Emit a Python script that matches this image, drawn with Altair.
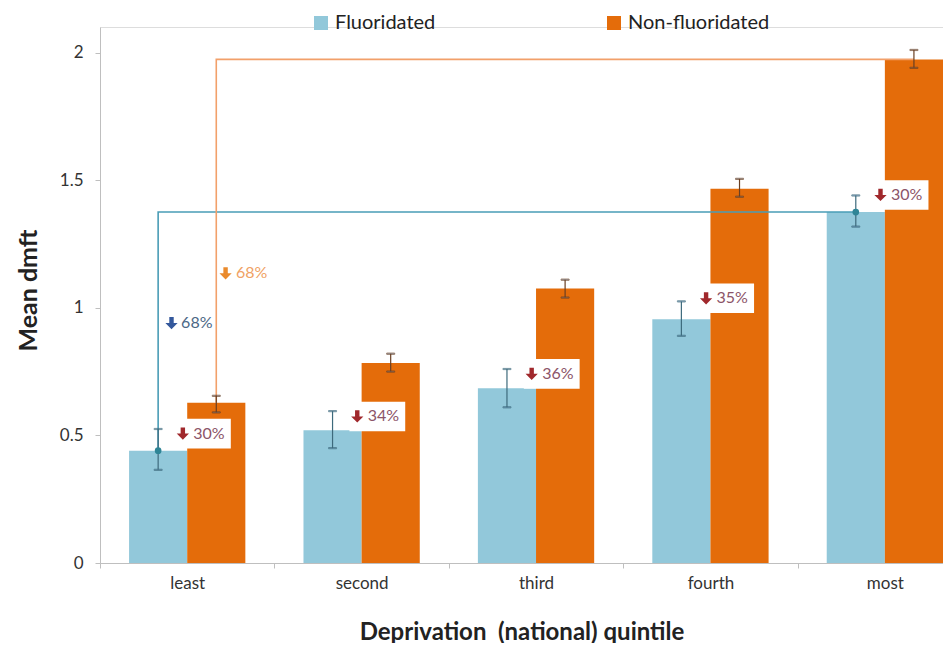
import json
import altair as alt
import pandas as pd

# ---------------- data ----------------
categories = ["least", "second", "third", "fourth", "most"]
series = ["Fluoridated", "Non-fluoridated"]

fluor = [0.44, 0.52, 0.685, 0.955, 1.375]
fluor_lo = [0.365, 0.45, 0.61, 0.89, 1.318]
fluor_hi = [0.525, 0.595, 0.76, 1.025, 1.44]

nonfl = [0.628, 0.784, 1.075, 1.466, 1.973]
nonfl_lo = [0.59, 0.75, 1.04, 1.435, 1.94]
nonfl_hi = [0.655, 0.82, 1.11, 1.505, 2.01]

pct_labels = ["30%", "34%", "36%", "35%", "30%"]
pct_label_y = [0.507, 0.574, 0.741, 1.037, 1.442]

overall_labels = ["68%", "68%"]          # fluoridated, non-fluoridated
overall_label_y = [0.94, 1.135]

y_ticks = [0, 0.5, 1, 1.5, 2]

# ---------------- table building ----------------
BW = 1 / 3.0
rows = []
for i, c in enumerate(categories):
    for s, v, lo, hi in ((series[0], fluor[i], fluor_lo[i], fluor_hi[i]),
                         (series[1], nonfl[i], nonfl_lo[i], nonfl_hi[i])):
        xl = i - BW if s == series[0] else i
        rows.append(dict(cat=c, series=s, value=v, lo=lo, hi=hi,
                         xl=xl, xr=xl + BW, xc=xl + BW / 2))
bars = pd.DataFrame(rows)

# connector paths: from the "least" bar up to the "most" level, across to the "most" bar
paths = []
for s, vals in ((series[0], fluor), (series[1], nonfl)):
    b0 = bars[(bars.series == s) & (bars.cat == categories[0])].iloc[0]
    b4 = bars[(bars.series == s) & (bars.cat == categories[-1])].iloc[0]
    paths += [dict(series=s, o=0, x=b0.xc, y=vals[0]),
              dict(series=s, o=1, x=b0.xc, y=vals[-1]),
              dict(series=s, o=2, x=b4.xc, y=vals[-1])]
paths = pd.DataFrame(paths)
dots = pd.DataFrame([paths.iloc[0].to_dict(), paths.iloc[2].to_dict()])

labels = pd.DataFrame(dict(i=list(range(len(categories))), pct=pct_labels, y=pct_label_y))
labels["bx"] = labels.i - 0.07
labels["bx2"] = labels.i + 0.25
labels["by"] = labels.y - 0.058
labels["by2"] = labels.y + 0.058
labels["ax"] = labels.i - 0.025
labels["tx"] = labels.i + 0.035

overall = pd.DataFrame(dict(series=series, t=overall_labels, y=overall_label_y))
overall["ax"] = [-0.09, 0.22]
overall["tx"] = [-0.035, 0.28]

# ---------------- scales / axes ----------------
XD = [-0.5, len(categories) - 1 + BW]
YD = [0, 2.1]
xs = alt.Scale(domain=XD, nice=False, zero=False)
ys = alt.Scale(domain=YD, nice=False, zero=True)

x_vals = []
for i in range(len(categories)):
    x_vals += [i - 0.5, i]
label_expr = ("datum.value % 1 === 0 ? " + json.dumps(categories) +
              "[datum.value] : ''")

x_axis = alt.Axis(values=x_vals, labelExpr=label_expr,
                  title="Deprivation\u00a0 (national) quintile",
                  grid=False, domainColor="#bfbfbf", tickColor="#bfbfbf", tickSize=5,
                  tickOpacity={"condition": {"test": "datum.value % 1 !== 0", "value": 1}, "value": 0},
                  labelFontSize=17, labelColor="#333333", labelPadding=7, labelFlush=False,
                  titleFontSize=24, titleFontWeight="bold", titleColor="#222222",
                  titleY=69, titleBaseline="middle")
y_axis = alt.Axis(values=y_ticks, format="~g", title="Mean dmft", grid=False,
                  domainColor="#bfbfbf", tickColor="#bfbfbf", tickSize=5,
                  labelFontSize=17, labelColor="#333333", labelPadding=12,
                  titleFontSize=25, titleFontWeight="bold", titleColor="#222222",
                  titleX=-72, titleY=263, titleBaseline="middle", titleAlign="center")

COL_F, COL_N = "#92c8da", "#e46c0a"
ARROW = "M-0.36,-1 L0.36,-1 L0.36,0 L1,0 L0,1 L-1,0 L-0.36,0 Z"

bar_layer = alt.Chart(bars).mark_bar().encode(
    x=alt.X("xl:Q", scale=xs, axis=x_axis),
    x2="xr:Q",
    y=alt.Y("value:Q", scale=ys, axis=y_axis),
    y2=alt.Y2(datum=0),
    color=alt.Color("series:N", scale=alt.Scale(domain=series, range=[COL_F, COL_N]),
                    legend=alt.Legend(title=None, orient="none", direction="horizontal",
                                      legendX=211, legendY=-14, symbolType="square",
                                      symbolSize=196, symbolStrokeWidth=0,
                                      labelFontSize=20, labelColor="#222222",
                                      labelOffset=4, columnPadding=168)),
)

err_scale = alt.Scale(domain=series, range=["#3d6a7c", "#6a3f22"])
err_rule = alt.Chart(bars).mark_rule(strokeWidth=1.2).encode(
    x=alt.X("xc:Q", scale=xs), y=alt.Y("lo:Q", scale=ys), y2="hi:Q",
    stroke=alt.Stroke("series:N", scale=err_scale, legend=None))
cap_lo = alt.Chart(bars).mark_tick(orient="horizontal", size=8, thickness=1.2).encode(
    x=alt.X("xc:Q", scale=xs), y=alt.Y("lo:Q", scale=ys),
    stroke=alt.Stroke("series:N", scale=err_scale, legend=None))
cap_hi = alt.Chart(bars).mark_tick(orient="horizontal", size=8, thickness=1.2).encode(
    x=alt.X("xc:Q", scale=xs), y=alt.Y("hi:Q", scale=ys),
    stroke=alt.Stroke("series:N", scale=err_scale, legend=None))

lines = alt.Chart(paths).mark_line(strokeWidth=1.6).encode(
    x=alt.X("x:Q", scale=xs), y=alt.Y("y:Q", scale=ys), order="o:Q",
    detail="series:N",
    stroke=alt.Stroke("series:N", scale=alt.Scale(domain=series, range=["#4a9db6", "#f2a06a"]),
                      legend=None))

dot_layer = alt.Chart(dots).mark_point(filled=True, size=45, opacity=1, color="#2f8596").encode(
    x=alt.X("x:Q", scale=xs), y=alt.Y("y:Q", scale=ys))

boxes = alt.Chart(labels).mark_rect(color="white").encode(
    x=alt.X("bx:Q", scale=xs), x2="bx2:Q", y=alt.Y("by:Q", scale=ys), y2="by2:Q")
arrows = alt.Chart(labels).mark_point(shape=ARROW, filled=True, size=150, opacity=1,
                                      color="#a0282c", strokeWidth=0).encode(
    x=alt.X("ax:Q", scale=xs), y=alt.Y("y:Q", scale=ys))
pcts = alt.Chart(labels).mark_text(align="left", baseline="middle", fontSize=16,
                                   color="#8c5468").encode(
    x=alt.X("tx:Q", scale=xs), y=alt.Y("y:Q", scale=ys), text="pct:N")

ov_arrows = alt.Chart(overall).mark_point(shape=ARROW, filled=True, size=150, opacity=1,
                                          strokeWidth=0).encode(
    x=alt.X("ax:Q", scale=xs), y=alt.Y("y:Q", scale=ys),
    fill=alt.Fill("series:N", scale=alt.Scale(domain=series, range=["#34589c", "#ea8a2c"]),
                  legend=None))
ov_text = alt.Chart(overall).mark_text(align="left", baseline="middle", fontSize=16).encode(
    x=alt.X("tx:Q", scale=xs), y=alt.Y("y:Q", scale=ys), text="t:N",
    fill=alt.Fill("series:N", scale=alt.Scale(domain=series, range=["#4c6886", "#f0a264"]),
                  legend=None))

chart = alt.layer(
    bar_layer, lines, err_rule, cap_lo, cap_hi, dot_layer, boxes, arrows, pcts, ov_arrows, ov_text
).resolve_scale(stroke="independent", fill="independent", color="independent").properties(
    width=843, height=536,
    autosize=alt.AutoSizeParams(type="none"),
    padding={"left": 92, "top": 19, "right": 0, "bottom": 80},
).configure_view(stroke=None).configure(font="Lato")

chart.save("out.html", embed_options={"renderer": "svg", "actions": False})
